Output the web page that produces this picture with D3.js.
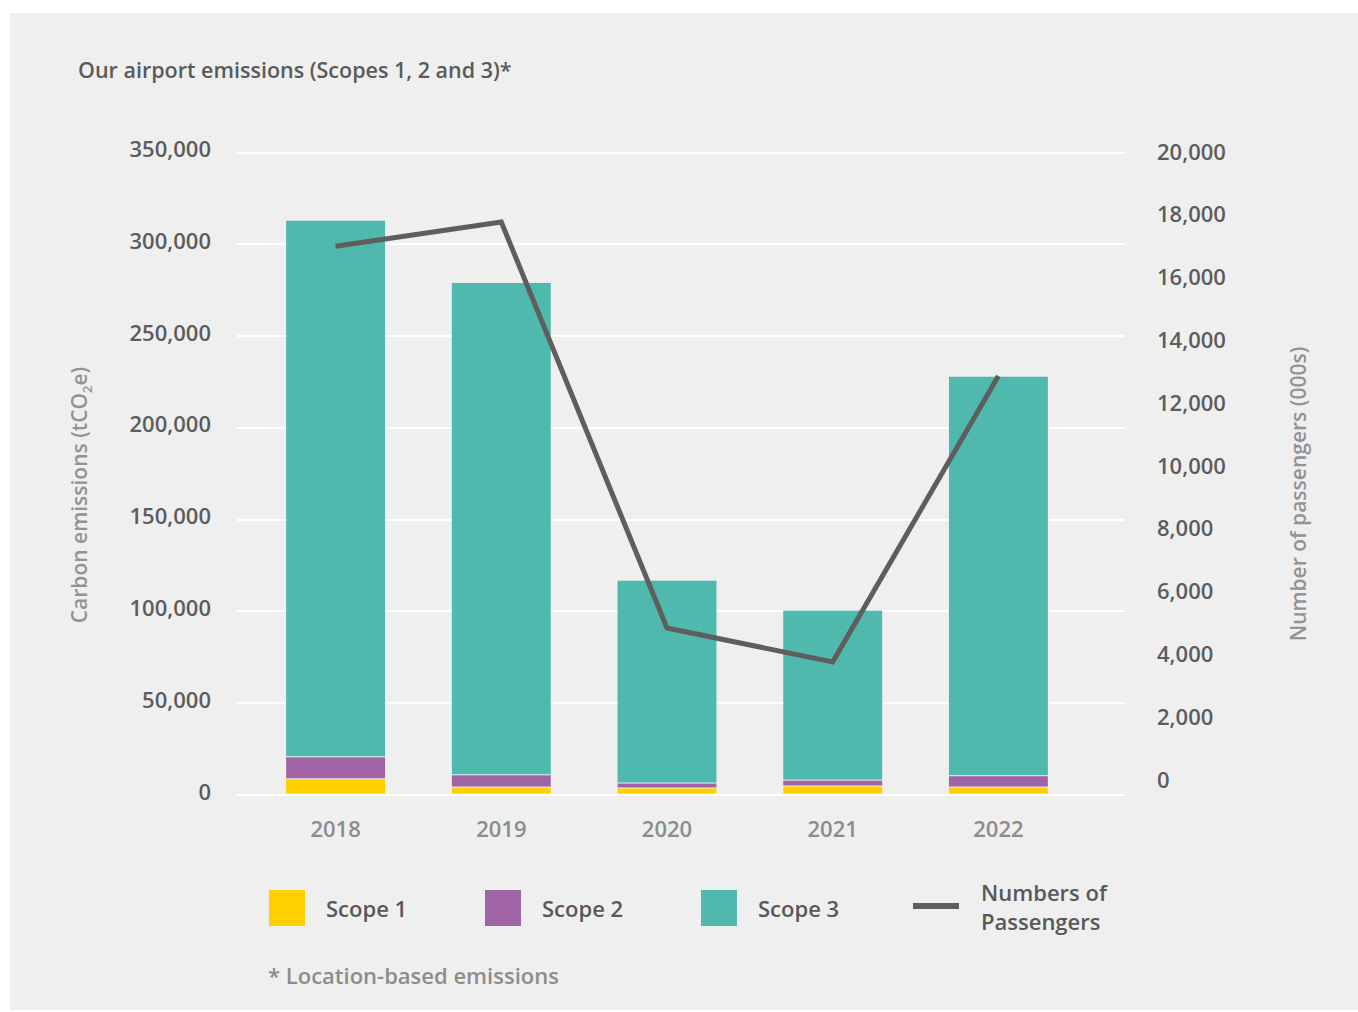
<!DOCTYPE html>
<html>
<head>
<meta charset="utf-8">
<script src="https://cdn.jsdelivr.net/npm/d3@7"></script>
<style>
  html, body { margin: 0; padding: 0; background: #ffffff; }
  svg { display: block; font-family: "Open Sans", "DejaVu Sans", sans-serif; }
</style>
</head>
<body>
<svg id="chart" width="1358" height="1012"></svg>
<script>
// Emissions by scope (tCO2e) and passenger numbers (000s)
const years = ["2018", "2019", "2020", "2021", "2022"];
const scope1 = [8000, 3500, 3000, 4100, 3500];
const scope2 = [12000, 6700, 2700, 3200, 6200];
const scope3 = [292300, 268200, 110500, 92600, 217600];
const passengers = [17000, 17770, 4840, 3760, 12870];

const leftTicks = [0, 50000, 100000, 150000, 200000, 250000, 300000, 350000];
const rightTicks = [0, 2000, 4000, 6000, 8000, 10000, 12000, 14000, 16000, 18000, 20000];

const seriesKeys = ["Scope 1", "Scope 2", "Scope 3"];
const seriesColors = ["#ffcf00", "#a064a5", "#4fb9ad"];
const lineColor = "#5e5e5e";
const FONT = "\"Open Sans\", sans-serif";

const rows = years.map((y, i) => ({
  year: y, "Scope 1": scope1[i], "Scope 2": scope2[i], "Scope 3": scope3[i]
}));

const svg = d3.select("#chart");

// panel background
svg.append("rect").attr("x", 10).attr("y", 13).attr("width", 1348).attr("height", 997)
  .attr("fill", "#efefef");

const x = d3.scaleBand().domain(years).range([253, 1081])
  .paddingInner(0.403).paddingOuter(0.2);
const y = d3.scaleLinear().domain([0, 350000]).range([794, 151.5]);
const y2 = d3.scaleLinear().domain([0, 20000]).range([780, 152]);

// gridlines
svg.append("g").selectAll("line").data(leftTicks).join("line")
  .attr("x1", 237).attr("x2", 1125)
  .attr("y1", d => Math.round(y(d)) + 1).attr("y2", d => Math.round(y(d)) + 1)
  .attr("stroke", "#ffffff").attr("stroke-width", 2);

// left axis labels
const leftAxis = d3.axisLeft(y).tickValues(leftTicks).tickSize(0).tickPadding(0)
  .tickFormat(d3.format(","));
const gl = svg.append("g").attr("transform", "translate(211,-2)").call(leftAxis);
gl.select(".domain").remove();
gl.selectAll("text").attr("fill", "#5c5c5c").attr("font-size", 22)
  .attr("font-family", FONT).attr("font-weight", 600);

// right axis labels
const rightAxis = d3.axisRight(y2).tickValues(rightTicks).tickSize(0).tickPadding(0)
  .tickFormat(d3.format(","));
const gr = svg.append("g").attr("transform", "translate(1157,0)").call(rightAxis);
gr.select(".domain").remove();
gr.selectAll("text").attr("fill", "#5c5c5c").attr("font-size", 22)
  .attr("font-family", FONT).attr("font-weight", 600);

// stacked bars
const stack = d3.stack().keys(seriesKeys);
const stacked = stack(rows);
svg.append("g").selectAll("g").data(stacked).join("g")
  .attr("fill", (d, i) => seriesColors[i])
  .selectAll("rect").data(d => d).join("rect")
  .attr("x", d => x(d.data.year))
  .attr("width", x.bandwidth())
  .attr("y", d => y(d[1]))
  .attr("height", d => Math.max(0, y(d[0]) - y(d[1]) - (d[0] > 0 ? 1 : 0.5)));

// passenger line
const line = d3.line()
  .x((d, i) => x(years[i]) + x.bandwidth() / 2)
  .y(d => y2(d));
svg.append("path").datum(passengers)
  .attr("d", line).attr("fill", "none")
  .attr("stroke", lineColor).attr("stroke-width", 5)
  .attr("stroke-linejoin", "miter");

// year labels
const xAxis = d3.axisBottom(x).tickSize(0).tickPadding(0);
const gx = svg.append("g").attr("transform", "translate(0,837)").call(xAxis);
gx.select(".domain").remove();
gx.selectAll("text").attr("fill", "#8c8c8c").attr("font-size", 22).attr("dy", 0)
  .attr("font-family", FONT).attr("font-weight", 600);

// title
svg.append("text").attr("x", 78).attr("y", 78)
  .attr("fill", "#5a5a5a").attr("font-size", 21.5).attr("font-weight", 600)
  .text("Our airport emissions (Scopes 1, 2 and 3)*");

// axis titles
const lt = svg.append("text")
  .attr("transform", "translate(87,495) rotate(-90)")
  .attr("text-anchor", "middle").attr("fill", "#939393").attr("font-size", 21)
  .attr("font-weight", 600);
lt.append("tspan").text("Carbon emissions (tCO");
lt.append("tspan").attr("font-size", 13).attr("dy", 5).text("2");
lt.append("tspan").attr("dy", -5).text("e)");

svg.append("text")
  .attr("transform", "translate(1306,494) rotate(-90)")
  .attr("text-anchor", "middle").attr("fill", "#939393").attr("font-size", 21)
  .attr("font-weight", 600)
  .text("Number of passengers (000s)");

// legend
const legendX = [269, 485, 701];
const lg = svg.append("g");
seriesKeys.forEach((k, i) => {
  lg.append("rect").attr("x", legendX[i]).attr("y", 890).attr("width", 36).attr("height", 36)
    .attr("fill", seriesColors[i]);
  lg.append("text").attr("x", legendX[i] + 57).attr("y", 917)
    .attr("fill", "#585858").attr("font-size", 22).attr("font-weight", 600).text(k);
});
lg.append("line").attr("x1", 913).attr("x2", 959).attr("y1", 906).attr("y2", 906)
  .attr("stroke", lineColor).attr("stroke-width", 6);
const lt2 = lg.append("text").attr("x", 981).attr("fill", "#585858")
  .attr("font-size", 22).attr("font-weight", 600);
lt2.append("tspan").attr("x", 981).attr("y", 901).text("Numbers of");
lt2.append("tspan").attr("x", 981).attr("y", 930).text("Passengers");

// footnote
svg.append("text").attr("x", 268).attr("y", 984)
  .attr("fill", "#8c8c8c").attr("font-size", 22).attr("font-weight", 600)
  .text("* Location-based emissions");
</script>
</body>
</html>
